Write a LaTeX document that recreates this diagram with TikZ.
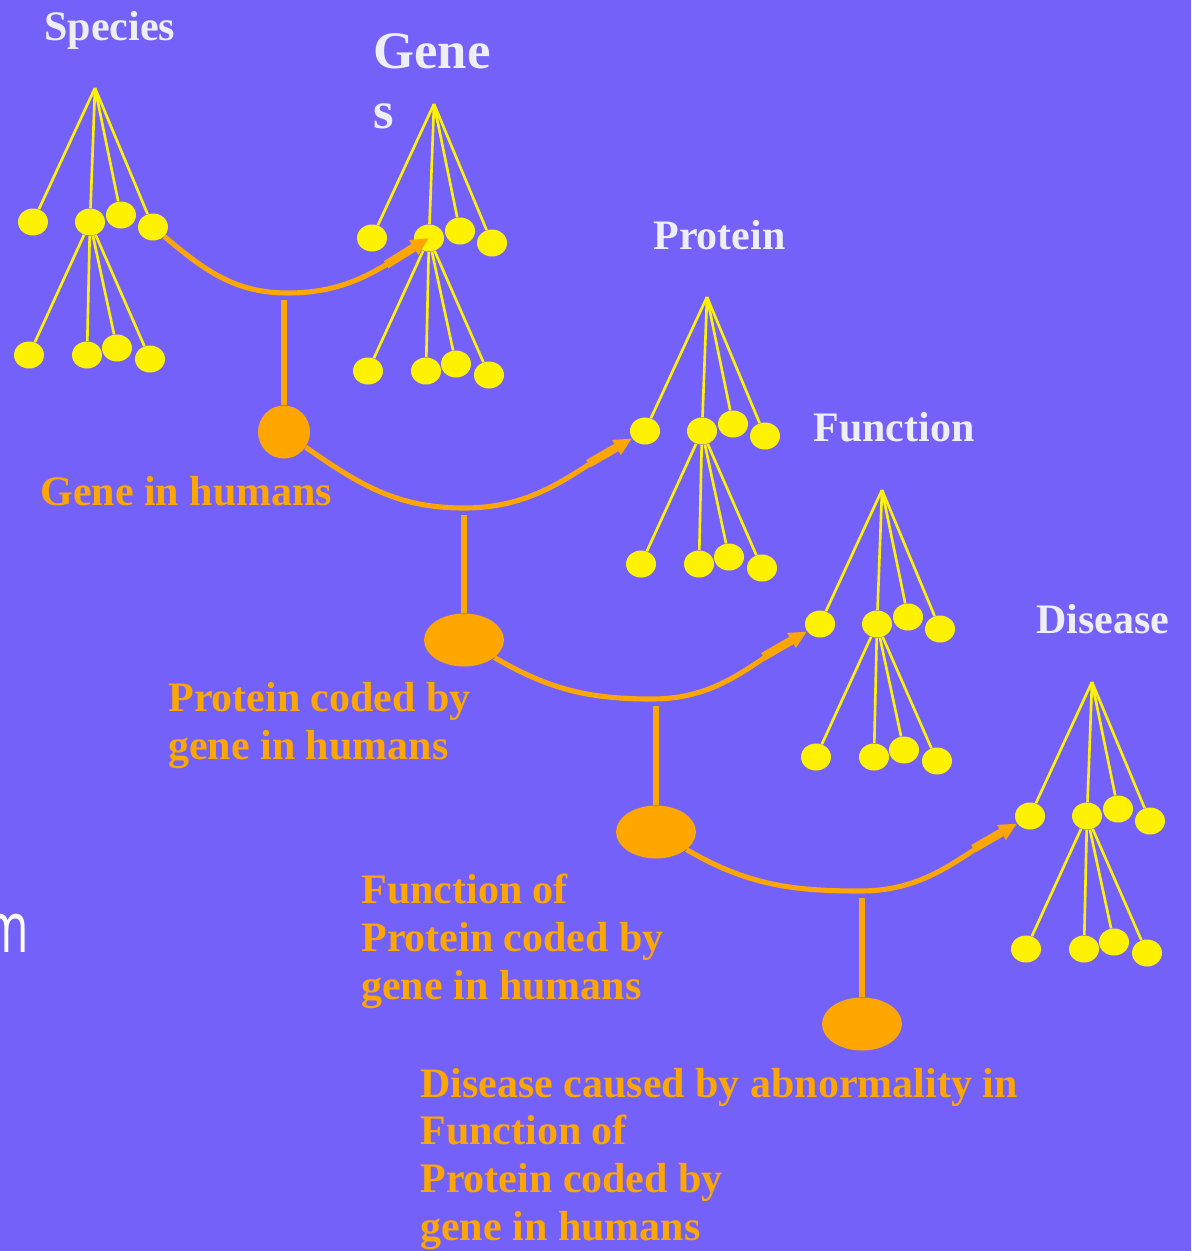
\documentclass[tikz,border=0pt]{standalone}
\usepackage{fontspec}
\setmainfont{Liberation Serif}
\newfontfamily\sidesans{Open Sans}
\usetikzlibrary{shapes.geometric,arrows.meta}
\definecolor{bgblue}{RGB}{116,97,250}
\definecolor{linkorange}{RGB}{255,166,0}
\definecolor{headwhite}{RGB}{238,238,246}
\tikzset{
  leafdot/.style={ellipse, fill=yellow, inner sep=0pt, minimum width=0.6cm, minimum height=0.54cm},
  branchline/.style={yellow, line width=1.5pt},
  hubdot/.style={ellipse, fill=linkorange, inner sep=0pt, minimum width=1.6cm, minimum height=1.06cm},
  linkarc/.style={linkorange, line width=2.9pt},
  linkarrow/.style={linkarc, -{Rectangle[length=0.65cm,width=0.17cm] Triangle[length=0.36cm,width=0.32cm]}},
  headlabel/.style={headwhite, font=\bfseries\fontsize{23.9}{27.3}\selectfont, inner sep=0pt, anchor=west},
  notelabel/.style={linkorange, font=\bfseries\fontsize{23.9}{27.3}\selectfont, inner sep=0pt, anchor=west, align=left}
}
\begin{document}
\begin{tikzpicture}[x=0.02cm, y=-0.02cm]
            % Nền
            \fill[bgblue] (0,0) rectangle (1191,1251);
            \useasboundingbox (0,0) rectangle (1191,1251);
            % Các cây: đỉnh, hàng trên, hàng dưới
            \foreach \n/\ax/\ay in {1/95/88, 2/434/104, 3/707/297, 4/882/490, 5/1092/682} {
                \coordinate (top\n) at (\ax,\ay);
                \foreach \k/\dx/\dy in {1/-62/134, 2/-5/134, 3/26/127, 4/58/139}
                    \node[leafdot] (u\n\k) at ({\ax+\dx},{\ay+\dy}) {};
                \foreach \k/\dx/\dy in {1/-66/267, 2/-8/267, 3/22/260, 4/55/271}
                    \node[leafdot] (w\n\k) at ({\ax+\dx},{\ay+\dy}) {};
                \foreach \k in {1,...,4} {
                    \draw[branchline] (top\n) -- (u\n\k);
                    \draw[branchline] (u\n2) -- (w\n\k);
                }
            }
            % Các nút cam
            \node[hubdot, minimum width=1.04cm] (h1) at (284,432) {};
            \node[hubdot] (h2) at (464,640) {};
            \node[hubdot] (h3) at (656,832) {};
            \node[hubdot] (h4) at (862,1024) {};
            % Đáy các cung
            \coordinate (b1) at (288,293);
            \coordinate (b2) at (464,508);
            \coordinate (b3) at (652,699);
            \coordinate (b4) at (860,891);
            % Các cung có mũi tên
            \draw[linkarrow] (u14) to[out=-40, in=180] (b1) to[out=0, in=-148] (u22.center);
            \draw[linkarrow] (h1) to[out=-35, in=180] (b2) to[out=0, in=-150] (u31);
            \draw[linkarrow] (h2) to[out=-30, in=180] (b3) to[out=0, in=-150] (u41);
            \draw[linkarrow] (h3) to[out=-30, in=180] (b4) to[out=0, in=-150] (u51);
            % Các thân dọc
            \foreach \k in {1,...,4}
                \draw[linkarc, shorten <=4pt] (b\k -| h\k) -- (h\k);
            % Tiêu đề trắng
            \node[headlabel] (species) at (44,30) {Species};
            \node[headlabel, align=left, font=\bfseries\fontsize{30}{34}\selectfont] (genes) at (373,81) {Gene\\s};
            \node[headlabel] (protein) at (653,235) {Protein};
            \node[headlabel] (function) at (813,427) {Function};
            \node[headlabel] (disease) at (1036,619) {Disease};
            % Chú thích cam
            \node[notelabel] (note1) at (40,491) {Gene in humans};
            \node[notelabel] (note2) at (168,726) {Protein coded by\\gene in humans};
            \node[notelabel] (note3) at (361,941) {Function of\\Protein coded by\\gene in humans};
            \node[notelabel] (note4) at (420,1159) {Disease caused by abnormality in\\Function of\\Protein coded by\\gene in humans};
            % Chữ bị cắt ở lề trái
            \node[white, font=\sidesans\fontsize{40}{40}\selectfont, inner sep=0pt, anchor=base east, xscale=0.68, transform shape] (edgem) at (29,952) {m};
\end{tikzpicture}
\end{document}
